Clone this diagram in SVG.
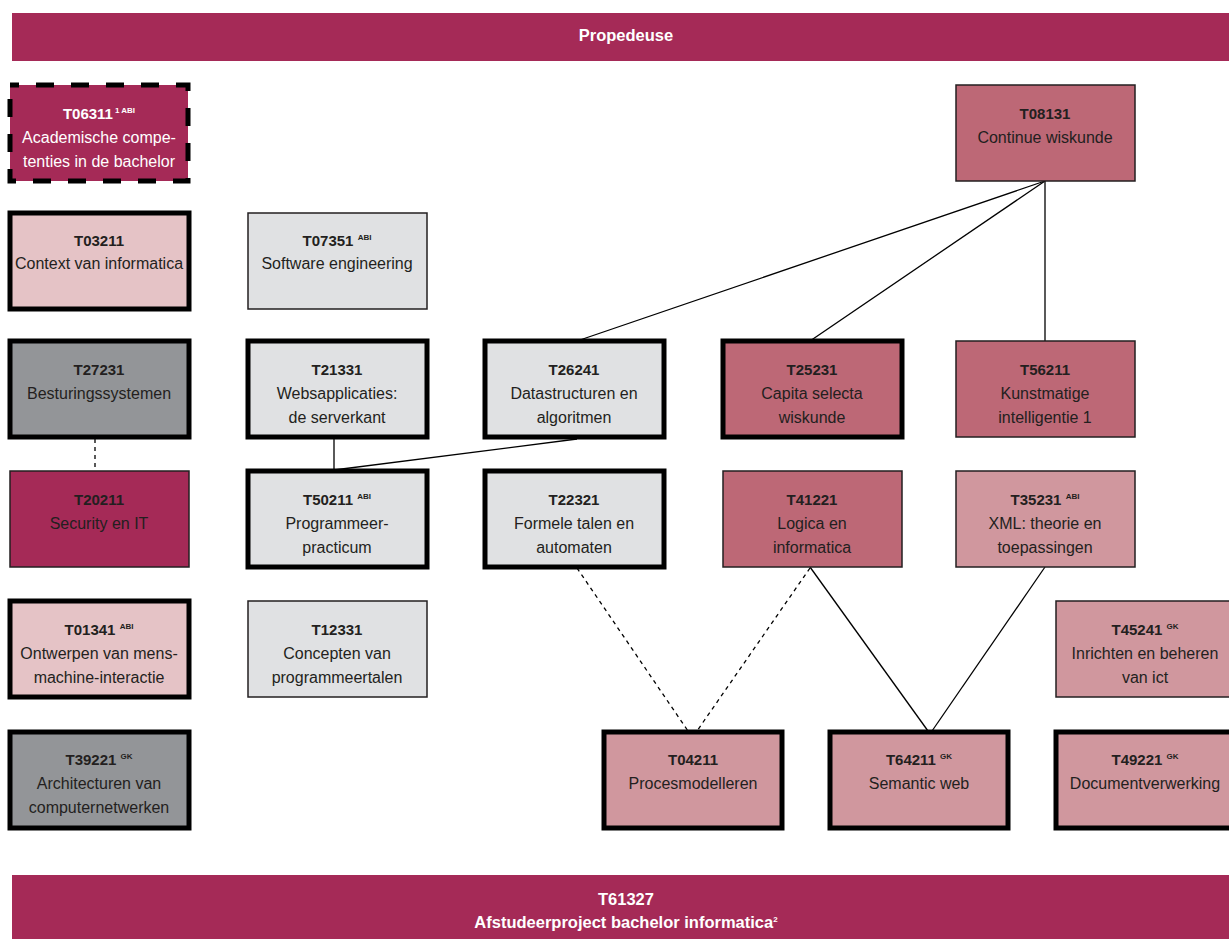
<svg xmlns="http://www.w3.org/2000/svg" width="1229" height="939" viewBox="0 0 1229 939">
<style>
text{font-family:"Liberation Sans",Arial,sans-serif;fill:#231f20;text-anchor:middle}
.t{font-weight:bold;font-size:15px}
.bt{font-weight:bold;font-size:16.5px}
.b{font-size:16px}
.s{font-size:8px;font-weight:bold}
.w{fill:#ffffff}
.thick{stroke:#000;stroke-width:5}
.thin{stroke:#231f20;stroke-width:1.5}
.dash{stroke:#000;stroke-width:5;stroke-dasharray:18 17;stroke-dashoffset:9}
.c1{fill:#a52a57}
.c2{fill:#bd6876}
.c3{fill:#d0979e}
.c4{fill:#e5c3c6}
.g1{fill:#939598}
.g2{fill:#e0e1e3}
.ln{stroke:#000;stroke-width:1.3;fill:none}
.dl{stroke:#000;stroke-width:1.3;fill:none;stroke-dasharray:4 4}
</style>
<rect width="1229" height="939" fill="#ffffff"/>
<g id="banner-top">
<rect x="12" y="13" width="1217" height="48" class="c1"/>
<text x="626" y="41" class="bt w">Propedeuse</text>
</g>
<g id="banner-bottom">
<rect x="12" y="875" width="1217" height="64" class="c1"/>
<text x="626" y="905" class="bt w">T61327</text>
<text x="626" y="928" class="bt w">Afstudeerproject bachelor informatica<tspan class="s w" dy="-6">2</tspan></text>
</g>
<g id="connectors">
<line x1="1045" y1="181" x2="577" y2="341" class="ln"/>
<line x1="1045" y1="181" x2="810" y2="341" class="ln"/>
<line x1="1045" y1="181" x2="1045" y2="341" class="ln"/>
<line x1="95" y1="439" x2="95" y2="471" class="dl"/>
<line x1="334" y1="439" x2="334" y2="470" class="ln"/>
<line x1="334" y1="470" x2="577" y2="439" class="ln"/>
<line x1="577" y1="568" x2="688" y2="731" class="dl"/>
<line x1="810" y1="568" x2="697" y2="731" class="dl"/>
<line x1="810" y1="567" x2="928" y2="731" class="ln"/>
<line x1="1045" y1="567" x2="932" y2="731" class="ln"/>
</g>
<g id="T06311">
<rect x="10" y="85" width="178" height="96" class="c1 dash"/>
<text x="99" y="119" class="t w">T06311<tspan class="s w" dx="2" dy="-6">1 ABI</tspan></text>
<text x="99" y="143" class="b w">Academische compe-</text>
<text x="99" y="167" class="b w">tenties in de bachelor</text>
</g>
<g id="T08131">
<rect x="956" y="85" width="179" height="96" class="c2 thin"/>
<text x="1045" y="119" class="t">T08131</text>
<text x="1045" y="143" class="b">Continue wiskunde</text>
</g>
<g id="T03211">
<rect x="10" y="213" width="179" height="96" class="c4 thick"/>
<text x="99" y="246" class="t">T03211</text>
<text x="99" y="269" class="b">Context van informatica</text>
</g>
<g id="T07351">
<rect x="248" y="213" width="179" height="96" class="g2 thin"/>
<text x="337" y="246" class="t">T07351 <tspan class="s" dy="-6">ABI</tspan></text>
<text x="337" y="269" class="b">Software engineering</text>
</g>
<g id="T27231">
<rect x="10" y="341" width="179" height="96" class="g1 thick"/>
<text x="99" y="375" class="t">T27231</text>
<text x="99" y="399" class="b">Besturingssystemen</text>
</g>
<g id="T21331">
<rect x="248" y="341" width="179" height="96" class="g2 thick"/>
<text x="337" y="375" class="t">T21331</text>
<text x="337" y="399" class="b">Websapplicaties:</text>
<text x="337" y="423" class="b">de serverkant</text>
</g>
<g id="T26241">
<rect x="485" y="341" width="179" height="96" class="g2 thick"/>
<text x="574" y="375" class="t">T26241</text>
<text x="574" y="399" class="b">Datastructuren en</text>
<text x="574" y="423" class="b">algoritmen</text>
</g>
<g id="T25231">
<rect x="723" y="341" width="179" height="96" class="c2 thick"/>
<text x="812" y="375" class="t">T25231</text>
<text x="812" y="399" class="b">Capita selecta</text>
<text x="812" y="423" class="b">wiskunde</text>
</g>
<g id="T56211">
<rect x="956" y="341" width="179" height="96" class="c2 thin"/>
<text x="1045" y="375" class="t">T56211</text>
<text x="1045" y="399" class="b">Kunstmatige</text>
<text x="1045" y="423" class="b">intelligentie 1</text>
</g>
<g id="T20211">
<rect x="10" y="471" width="179" height="96" class="c1 thin"/>
<text x="99" y="505" class="t">T20211</text>
<text x="99" y="529" class="b">Security en IT</text>
</g>
<g id="T50211">
<rect x="248" y="471" width="179" height="96" class="g2 thick"/>
<text x="337" y="505" class="t">T50211 <tspan class="s" dy="-6">ABI</tspan></text>
<text x="337" y="529" class="b">Programmeer-</text>
<text x="337" y="553" class="b">practicum</text>
</g>
<g id="T22321">
<rect x="485" y="471" width="179" height="96" class="g2 thick"/>
<text x="574" y="505" class="t">T22321</text>
<text x="574" y="529" class="b">Formele talen en</text>
<text x="574" y="553" class="b">automaten</text>
</g>
<g id="T41221">
<rect x="723" y="471" width="179" height="96" class="c2 thin"/>
<text x="812" y="505" class="t">T41221</text>
<text x="812" y="529" class="b">Logica en</text>
<text x="812" y="553" class="b">informatica</text>
</g>
<g id="T35231">
<rect x="956" y="471" width="179" height="96" class="c3 thin"/>
<text x="1045" y="505" class="t">T35231 <tspan class="s" dy="-6">ABI</tspan></text>
<text x="1045" y="529" class="b">XML: theorie en</text>
<text x="1045" y="553" class="b">toepassingen</text>
</g>
<g id="T01341">
<rect x="10" y="601" width="179" height="96" class="c4 thick"/>
<text x="99" y="635" class="t">T01341 <tspan class="s" dy="-6">ABI</tspan></text>
<text x="99" y="659" class="b">Ontwerpen van mens-</text>
<text x="99" y="683" class="b">machine-interactie</text>
</g>
<g id="T12331">
<rect x="248" y="601" width="179" height="96" class="g2 thin"/>
<text x="337" y="635" class="t">T12331</text>
<text x="337" y="659" class="b">Concepten van</text>
<text x="337" y="683" class="b">programmeertalen</text>
</g>
<g id="T45241">
<rect x="1056" y="601" width="179" height="96" class="c3 thin"/>
<text x="1145" y="635" class="t">T45241 <tspan class="s" dy="-6">GK</tspan></text>
<text x="1145" y="659" class="b">Inrichten en beheren</text>
<text x="1145" y="683" class="b">van ict</text>
</g>
<g id="T39221">
<rect x="10" y="732" width="179" height="96" class="g1 thick"/>
<text x="99" y="765" class="t">T39221 <tspan class="s" dy="-6">GK</tspan></text>
<text x="99" y="789" class="b">Architecturen van</text>
<text x="99" y="813" class="b">computernetwerken</text>
</g>
<g id="T04211">
<rect x="604" y="732" width="178" height="96" class="c3 thick"/>
<text x="693" y="765" class="t">T04211</text>
<text x="693" y="789" class="b">Procesmodelleren</text>
</g>
<g id="T64211">
<rect x="830" y="732" width="178" height="96" class="c3 thick"/>
<text x="919" y="765" class="t">T64211 <tspan class="s" dy="-6">GK</tspan></text>
<text x="919" y="789" class="b">Semantic web</text>
</g>
<g id="T49221">
<rect x="1056" y="732" width="179" height="96" class="c3 thick"/>
<text x="1145" y="765" class="t">T49221 <tspan class="s" dy="-6">GK</tspan></text>
<text x="1145" y="789" class="b">Documentverwerking</text>
</g>
</svg>
